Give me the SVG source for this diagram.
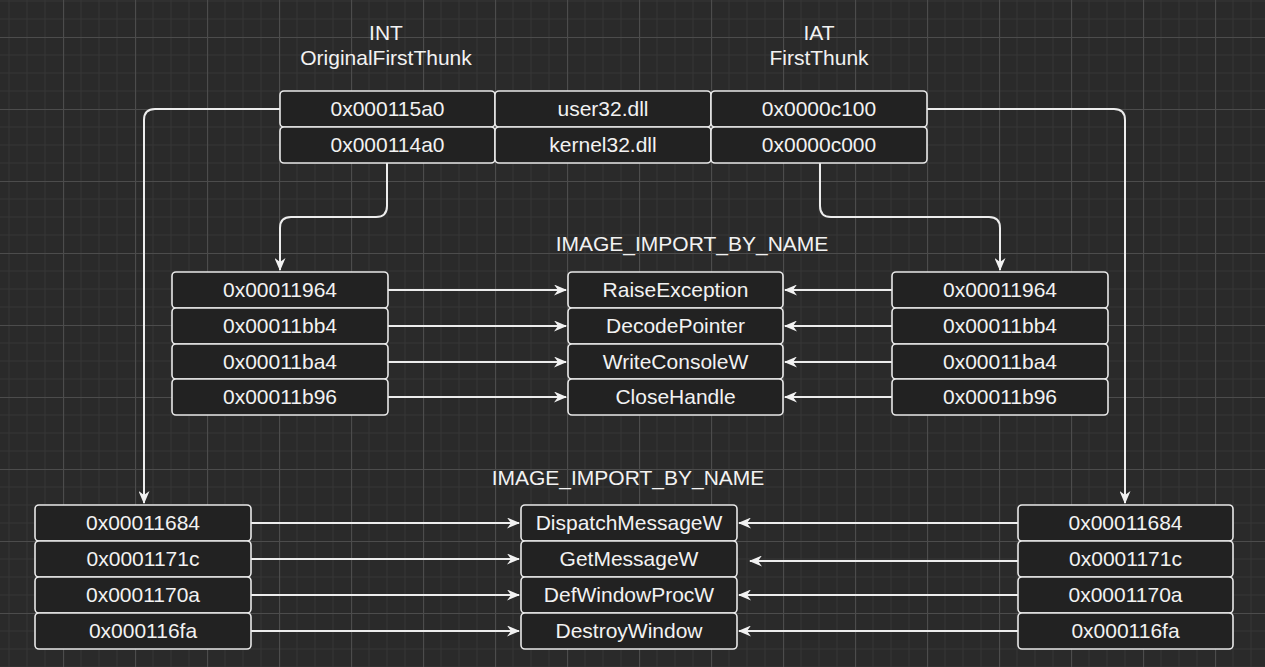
<svg xmlns="http://www.w3.org/2000/svg" width="1265" height="667" viewBox="0 0 1265 667">
<style>
.box{fill:#222222;stroke:#e8e8e8;stroke-width:1.6}
.t{font-family:"Liberation Sans",Arial,sans-serif;font-size:21px;fill:#f2f2f2;text-anchor:middle;dominant-baseline:central}
.c{fill:none;stroke:#ededed;stroke-width:2}
</style>
<defs>
<pattern id="grid" patternUnits="userSpaceOnUse" x="-9" y="-35" width="72" height="72">
<rect width="72" height="72" fill="#2a2a2a"/>
<path d="M18,0V72M36,0V72M54,0V72M0,18H72M0,36H72M0,54H72" stroke="#363636" stroke-width="1"/>
<path d="M0.5,0V72M0,0.5H72" stroke="#4c4c4c" stroke-width="1.2"/>
</pattern>
<marker id="arr" viewBox="0 0 13 11" refX="12" refY="5.5" markerWidth="13" markerHeight="11" markerUnits="userSpaceOnUse" orient="auto">
<path d="M0,0 L13,5.5 L0,11 L4,5.5 Z" fill="#f2f2f2"/>
</marker>
</defs>
<rect width="1265" height="667" fill="url(#grid)"/>

<g id="titles">
<text class="t" x="386" y="32">INT</text>
<text class="t" x="386" y="57">OriginalFirstThunk</text>
<text class="t" x="819" y="32">IAT</text>
<text class="t" x="819" y="57">FirstThunk</text>
<text class="t" x="692" y="243">IMAGE_IMPORT_BY_NAME</text>
<text class="t" x="628" y="477">IMAGE_IMPORT_BY_NAME</text>
</g>

<g id="connectors">
<path class="c" d="M280,109 H155 Q144,109 144,120 V503" marker-end="url(#arr)"/>
<path class="c" d="M387,163 V206 Q387,217 376,217 H291 Q280,217 280,228 V270" marker-end="url(#arr)"/>
<path class="c" d="M820,163 V206 Q820,217 831,217 H989 Q1000,217 1000,228 V270" marker-end="url(#arr)"/>
<path class="c" d="M927,109 H1114 Q1125,109 1125,120 V503" marker-end="url(#arr)"/>
<path class="c" d="M388,290 H566" marker-end="url(#arr)"/>
<path class="c" d="M388,326 H566" marker-end="url(#arr)"/>
<path class="c" d="M388,362 H566" marker-end="url(#arr)"/>
<path class="c" d="M388,397 H566" marker-end="url(#arr)"/>
<path class="c" d="M892,290 H785" marker-end="url(#arr)"/>
<path class="c" d="M892,326 H785" marker-end="url(#arr)"/>
<path class="c" d="M892,362 H785" marker-end="url(#arr)"/>
<path class="c" d="M892,397 H785" marker-end="url(#arr)"/>
<path class="c" d="M251,523 H519" marker-end="url(#arr)"/>
<path class="c" d="M251,559 H519" marker-end="url(#arr)"/>
<path class="c" d="M251,595 H519" marker-end="url(#arr)"/>
<path class="c" d="M251,631 H519" marker-end="url(#arr)"/>
<path class="c" d="M1018,523 H739" marker-end="url(#arr)"/>
<path class="c" d="M1018,561 H750" marker-end="url(#arr)"/>
<path class="c" d="M1018,595 H739" marker-end="url(#arr)"/>
<path class="c" d="M1018,631 H739" marker-end="url(#arr)"/>
</g>

<g id="int-1"><rect class="box" x="280" y="91" width="215" height="36" rx="4"/><text class="t" x="387.5" y="108">0x000115a0</text></g>
<g id="int-2"><rect class="box" x="280" y="127" width="215" height="36" rx="4"/><text class="t" x="387.5" y="144">0x000114a0</text></g>
<g id="dll-1"><rect class="box" x="495" y="91" width="216" height="36" rx="4"/><text class="t" x="603" y="108">user32.dll</text></g>
<g id="dll-2"><rect class="box" x="495" y="127" width="216" height="36" rx="4"/><text class="t" x="603" y="144">kernel32.dll</text></g>
<g id="iat-1"><rect class="box" x="711" y="91" width="216" height="36" rx="4"/><text class="t" x="819" y="108">0x0000c100</text></g>
<g id="iat-2"><rect class="box" x="711" y="127" width="216" height="36" rx="4"/><text class="t" x="819" y="144">0x0000c000</text></g>

<g id="kint-1"><rect class="box" x="172" y="272" width="216" height="36" rx="4"/><text class="t" x="280" y="289">0x00011964</text></g>
<g id="kint-2"><rect class="box" x="172" y="308" width="216" height="36" rx="4"/><text class="t" x="280" y="325">0x00011bb4</text></g>
<g id="kint-3"><rect class="box" x="172" y="344" width="216" height="35" rx="4"/><text class="t" x="280" y="361">0x00011ba4</text></g>
<g id="kint-4"><rect class="box" x="172" y="379" width="216" height="36" rx="4"/><text class="t" x="280" y="396">0x00011b96</text></g>

<g id="kname-1"><rect class="box" x="568" y="272" width="215" height="36" rx="4"/><text class="t" x="675.5" y="289">RaiseException</text></g>
<g id="kname-2"><rect class="box" x="568" y="308" width="215" height="36" rx="4"/><text class="t" x="675.5" y="325">DecodePointer</text></g>
<g id="kname-3"><rect class="box" x="568" y="344" width="215" height="35" rx="4"/><text class="t" x="675.5" y="361">WriteConsoleW</text></g>
<g id="kname-4"><rect class="box" x="568" y="379" width="215" height="36" rx="4"/><text class="t" x="675.5" y="396">CloseHandle</text></g>

<g id="kiat-1"><rect class="box" x="892" y="272" width="216" height="36" rx="4"/><text class="t" x="1000" y="289">0x00011964</text></g>
<g id="kiat-2"><rect class="box" x="892" y="308" width="216" height="36" rx="4"/><text class="t" x="1000" y="325">0x00011bb4</text></g>
<g id="kiat-3"><rect class="box" x="892" y="344" width="216" height="35" rx="4"/><text class="t" x="1000" y="361">0x00011ba4</text></g>
<g id="kiat-4"><rect class="box" x="892" y="379" width="216" height="36" rx="4"/><text class="t" x="1000" y="396">0x00011b96</text></g>

<g id="uint-1"><rect class="box" x="35" y="505" width="216" height="36" rx="4"/><text class="t" x="143" y="522">0x00011684</text></g>
<g id="uint-2"><rect class="box" x="35" y="541" width="216" height="36" rx="4"/><text class="t" x="143" y="558">0x0001171c</text></g>
<g id="uint-3"><rect class="box" x="35" y="577" width="216" height="36" rx="4"/><text class="t" x="143" y="594">0x0001170a</text></g>
<g id="uint-4"><rect class="box" x="35" y="613" width="216" height="36" rx="4"/><text class="t" x="143" y="630">0x000116fa</text></g>

<g id="uname-1"><rect class="box" x="521" y="505" width="216" height="36" rx="4"/><text class="t" x="629" y="522">DispatchMessageW</text></g>
<g id="uname-2"><rect class="box" x="521" y="541" width="216" height="36" rx="4"/><text class="t" x="629" y="558">GetMessageW</text></g>
<g id="uname-3"><rect class="box" x="521" y="577" width="216" height="36" rx="4"/><text class="t" x="629" y="594">DefWindowProcW</text></g>
<g id="uname-4"><rect class="box" x="521" y="613" width="216" height="36" rx="4"/><text class="t" x="629" y="630">DestroyWindow</text></g>

<g id="uiat-1"><rect class="box" x="1018" y="505" width="215" height="36" rx="4"/><text class="t" x="1125.5" y="522">0x00011684</text></g>
<g id="uiat-2"><rect class="box" x="1018" y="541" width="215" height="36" rx="4"/><text class="t" x="1125.5" y="558">0x0001171c</text></g>
<g id="uiat-3"><rect class="box" x="1018" y="577" width="215" height="36" rx="4"/><text class="t" x="1125.5" y="594">0x0001170a</text></g>
<g id="uiat-4"><rect class="box" x="1018" y="613" width="215" height="36" rx="4"/><text class="t" x="1125.5" y="630">0x000116fa</text></g>
</svg>
